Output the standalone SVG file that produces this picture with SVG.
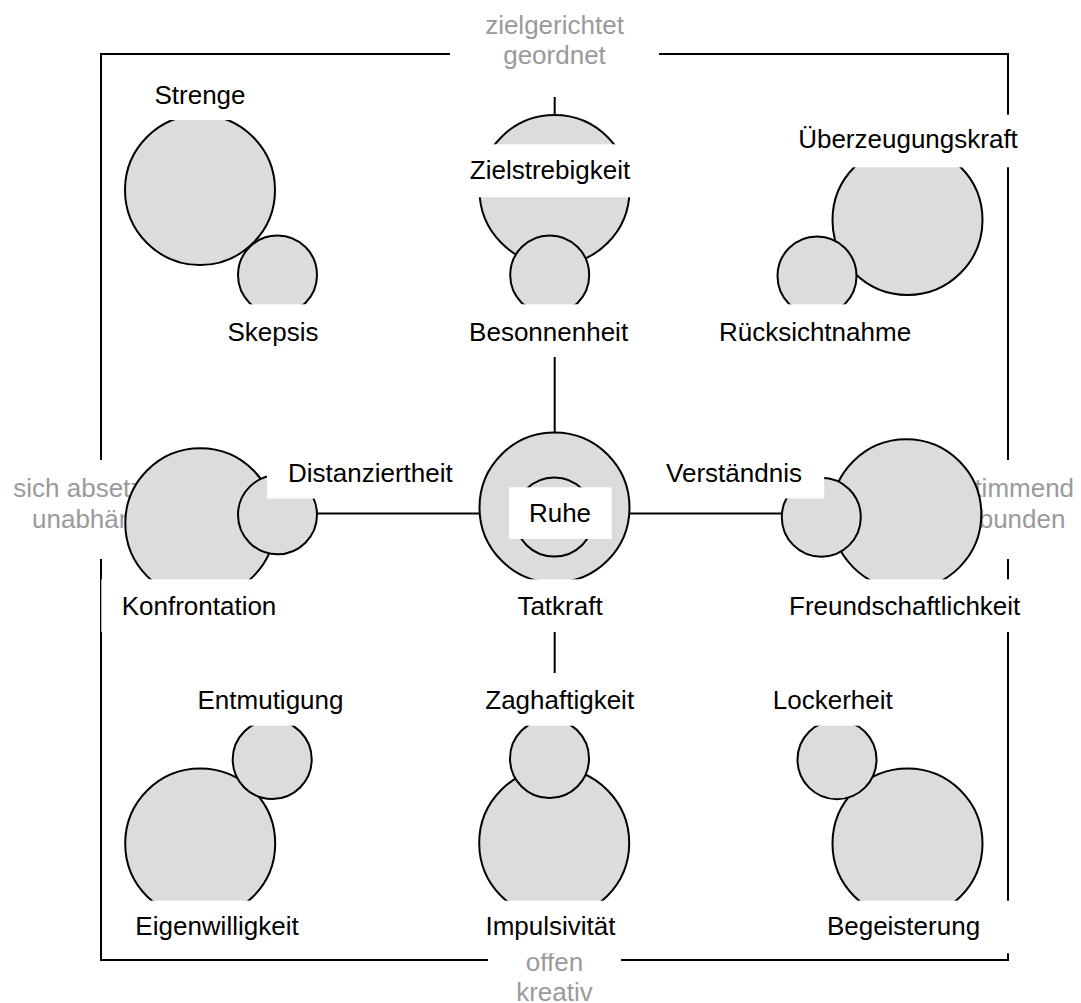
<svg xmlns="http://www.w3.org/2000/svg" width="1081" height="1003" viewBox="0 0 1081 1003">
  <style>
    .frame { fill: none; stroke: #000; stroke-width: 2; }
    .axis { stroke: #000; stroke-width: 2; fill: none; }
    .big, .small { fill: #dcdcdc; stroke: #000; stroke-width: 2; }
    .bg { fill: #fff; stroke: none; }
    .lbl { font-family: "Liberation Sans", Arial, sans-serif; font-size: 26px; fill: #000; text-anchor: middle; }
    .pole { font-family: "Liberation Sans", Arial, sans-serif; font-size: 26px; fill: #9a9a9a; text-anchor: middle; }
  </style>

  <!-- outer frame -->
  <rect class="frame" x="101" y="54" width="907" height="906"/>

  <!-- pole labels on the frame -->
  <g id="pole-top">
    <rect class="bg" x="450" y="0" width="209" height="97"/>
    <text class="pole" x="554.5" y="33.5">zielgerichtet</text>
    <text class="pole" x="554.5" y="63.5">geordnet</text>
  </g>
  <g id="pole-bottom">
    <rect class="bg" x="488" y="940" width="133" height="63"/>
    <text class="pole" x="554.5" y="971">offen</text>
    <text class="pole" x="554.5" y="1001">kreativ</text>
  </g>
  <g id="pole-left">
    <rect class="bg" x="0" y="460" width="200" height="99"/>
    <text class="pole" x="100" y="496.5">sich absetzend</text>
    <text class="pole" x="100" y="527.5">unabhängig</text>
  </g>
  <g id="pole-right">
    <rect class="bg" x="905" y="460" width="176" height="99"/>
    <text class="pole" x="1004" y="496.5">zustimmend</text>
    <text class="pole" x="1004" y="527.5">verbunden</text>
  </g>

  <!-- connectors -->
  <g id="connectors">
    <line class="axis" x1="554.7" y1="97" x2="554.7" y2="673"/>
    <line class="axis" x1="278" y1="513.4" x2="821" y2="513.4"/>
  </g>

  <!-- top left -->
  <g id="node-strenge">
    <circle class="big" cx="200" cy="190" r="75"/>
    <rect class="bg" x="134" y="67" width="132" height="53"/>
    <text class="lbl" x="200" y="104">Strenge</text>
  </g>
  <g id="node-skepsis">
    <circle class="small" cx="277.5" cy="275" r="39.5"/>
    <rect class="bg" x="203" y="304.3" width="140" height="52.7"/>
    <text class="lbl" x="273" y="341">Skepsis</text>
  </g>

  <!-- top centre -->
  <g id="node-zielstrebigkeit">
    <circle class="big" cx="554.5" cy="190" r="75"/>
    <rect class="bg" x="440" y="144.3" width="220" height="53"/>
    <text class="lbl" x="550" y="179">Zielstrebigkeit</text>
  </g>
  <g id="node-besonnenheit">
    <circle class="small" cx="549.7" cy="275" r="39.5"/>
    <rect class="bg" x="448" y="304.3" width="202" height="52.7"/>
    <text class="lbl" x="548.6" y="341">Besonnenheit</text>
  </g>

  <!-- top right -->
  <g id="node-ueberzeugungskraft">
    <circle class="big" cx="907.5" cy="220" r="75"/>
    <rect class="bg" x="777" y="114.7" width="263" height="52.6"/>
    <text class="lbl" x="908" y="148.3">Überzeugungskraft</text>
  </g>
  <g id="node-ruecksichtnahme">
    <circle class="small" cx="817" cy="276" r="39.5"/>
    <rect class="bg" x="697" y="304.3" width="236" height="52.7"/>
    <text class="lbl" x="815" y="341">Rücksichtnahme</text>
  </g>

  <!-- middle left -->
  <g id="node-konfrontation">
    <circle class="big" cx="200.3" cy="523.3" r="75"/>
    <rect class="bg" x="101.3" y="579.3" width="196" height="52.7"/>
    <text class="lbl" x="199" y="615">Konfrontation</text>
  </g>
  <g id="node-distanziertheit">
    <circle class="small" cx="277.5" cy="514.8" r="39.5"/>
    <rect class="bg" x="266.9" y="446" width="207" height="52.5"/>
    <text class="lbl" x="370.4" y="482.3">Distanziertheit</text>
  </g>

  <!-- centre -->
  <g id="node-tatkraft">
    <circle class="big" cx="554.5" cy="507.5" r="75"/>
    <rect class="bg" x="500" y="579.3" width="120" height="52.7"/>
    <text class="lbl" x="560" y="615">Tatkraft</text>
  </g>
  <g id="node-ruhe">
    <circle class="small" cx="554.3" cy="517" r="39.5"/>
    <rect class="bg" x="509" y="487.3" width="102.7" height="51.7"/>
    <text class="lbl" x="560" y="521.5">Ruhe</text>
  </g>

  <!-- middle right -->
  <g id="node-freundschaftlichkeit">
    <circle class="big" cx="906.3" cy="514.3" r="75"/>
    <rect class="bg" x="766" y="579.3" width="277" height="52.7"/>
    <text class="lbl" x="904.7" y="615">Freundschaftlichkeit</text>
  </g>
  <g id="node-verstaendnis">
    <circle class="small" cx="821.3" cy="517.2" r="39.5"/>
    <rect class="bg" x="645" y="446" width="179.2" height="52.5"/>
    <text class="lbl" x="734" y="482.3">Verständnis</text>
  </g>

  <!-- bottom left -->
  <g id="node-eigenwilligkeit">
    <circle class="big" cx="200.2" cy="843.5" r="75"/>
    <rect class="bg" x="115" y="900.7" width="204" height="52.6"/>
    <text class="lbl" x="217" y="935">Eigenwilligkeit</text>
  </g>
  <g id="node-entmutigung">
    <circle class="small" cx="272.2" cy="759.5" r="39.5"/>
    <rect class="bg" x="177" y="673" width="187" height="52.7"/>
    <text class="lbl" x="270.5" y="709">Entmutigung</text>
  </g>

  <!-- bottom centre -->
  <g id="node-impulsivitaet">
    <circle class="big" cx="554.2" cy="843" r="75"/>
    <rect class="bg" x="464" y="900.7" width="173" height="52.6"/>
    <text class="lbl" x="550.5" y="935">Impulsivität</text>
  </g>
  <g id="node-zaghaftigkeit">
    <circle class="small" cx="549.5" cy="758.5" r="39.5"/>
    <rect class="bg" x="463" y="673" width="193" height="52.7"/>
    <text class="lbl" x="559.7" y="709">Zaghaftigkeit</text>
  </g>

  <!-- bottom right -->
  <g id="node-begeisterung">
    <circle class="big" cx="907.5" cy="843.5" r="75"/>
    <rect class="bg" x="806" y="900.7" width="203.3" height="52.6"/>
    <text class="lbl" x="903.5" y="935">Begeisterung</text>
  </g>
  <g id="node-lockerheit">
    <circle class="small" cx="837" cy="759.7" r="39.5"/>
    <rect class="bg" x="752" y="673" width="162" height="52.7"/>
    <text class="lbl" x="832.8" y="709">Lockerheit</text>
  </g>
</svg>
